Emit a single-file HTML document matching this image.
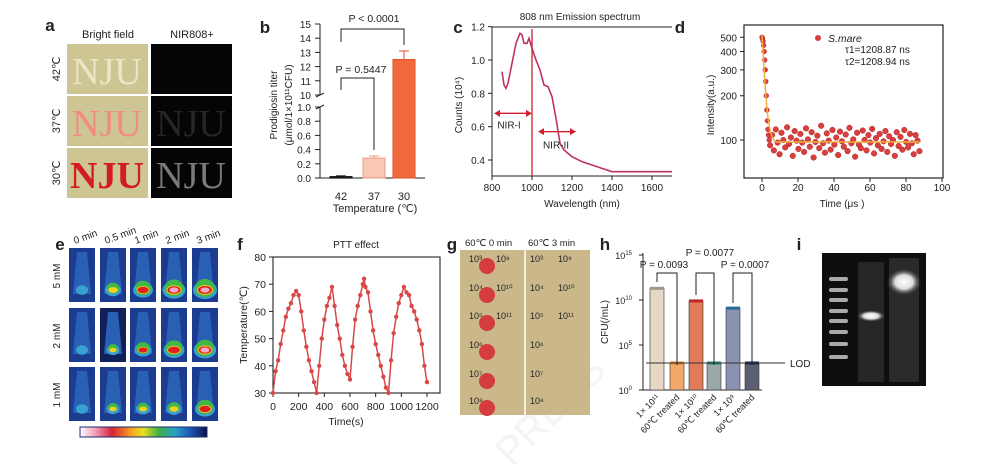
<!DOCTYPE html>
<html><head><meta charset="utf-8"><style>
html,body{margin:0;padding:0;background:#fff;overflow:hidden;}
svg{display:block;font-family:"Liberation Sans",sans-serif;}
</style></head><body>
<svg id="fig" xmlns="http://www.w3.org/2000/svg" width="1000" height="470" viewBox="0 0 1000 470" style="overflow:hidden">
<defs>
<linearGradient id="cbar" x1="0" x2="1" y1="0" y2="0">
<stop offset="0" stop-color="#ffffff"/><stop offset="0.12" stop-color="#f0a0b8"/><stop offset="0.25" stop-color="#d8203a"/><stop offset="0.4" stop-color="#f5a020"/><stop offset="0.5" stop-color="#e8e020"/><stop offset="0.62" stop-color="#40b040"/><stop offset="0.75" stop-color="#2aa0c8"/><stop offset="0.88" stop-color="#1c50b0"/><stop offset="1" stop-color="#0a1040"/>
</linearGradient>
<radialGradient id="glow"><stop offset="0" stop-color="#fff"/><stop offset="0.5" stop-color="#ddd"/><stop offset="1" stop-color="#222" stop-opacity="0"/></radialGradient>
</defs>
</svg>
<script>
const NS='http://www.w3.org/2000/svg';
const svg=document.getElementById('fig');
function el(tag,attrs,name,parent){
  const e=document.createElementNS(NS,tag);
  for(const k in attrs) e.setAttribute(k,attrs[k]);
  
  
  (parent||svg).appendChild(e);
  return e;
}
function tx(x,y,s,size,name,opt){
  opt=opt||{};
  const a={x:x,y:y,'font-size':size,fill:opt.fill||'#222','text-anchor':opt.anchor||'middle'};
  if(opt.bold)a['font-weight']='bold';
  if(opt.italic)a['font-style']='italic';
  if(opt.rot!==undefined)a.transform='rotate('+opt.rot+' '+x+' '+y+')';
  if(opt.family)a['font-family']=opt.family;
  const t=el('text',a,name);
  t.textContent=s;
  return t;
}
function ln(x1,y1,x2,y2,name,stroke,w){return el('line',{x1:x1,y1:y1,x2:x2,y2:y2,stroke:stroke||'#222','stroke-width':w||1},name);}

// ===== data arrays =====
const bCats=['42','37','30'];
const bVals=[0.02,0.28,12.5];
const bErr=[0.01,0.03,0.6];
const bTicksUpper=[10,11,12,13,14,15];
const bTicksLower=[0,0.2,0.4,0.6,0.8,1.0];

const cWave=[850,860,870,880,900,920,940,950,960,975,985,1000,1020,1040,1060,1080,1100,1120,1140,1160,1200,1250,1300,1350,1400,1500,1600,1700];
const cCounts=[0.93,0.85,0.83,0.86,0.98,1.1,1.16,1.15,1.1,1.1,1.13,1.07,1.0,0.94,0.85,0.84,0.78,0.65,0.5,0.46,0.42,0.39,0.37,0.35,0.33,0.33,0.33,0.33];
const cYTicks=[0.4,0.6,0.8,1.0,1.2];
const cXTicks=[800,1000,1200,1400,1600];

const dDecayT=[0,0.3,0.6,0.9,1.2,1.5,1.8,2.1,2.4,2.7,3.0,3.3,3.6,4.0];
const dDecayV=[500,490,470,440,400,350,300,250,200,160,135,118,108,100];
const dNoise=[92,108,85,118,96,80,112,100,89,122,94,104,78,115,99,87,110,96,83,120,101,90,113,76,97,107,88,125,95,82,111,99,86,117,93,104,79,114,98,90,109,84,121,95,101,77,112,93,88,116,100,85,108,96,119,81,103,92,110,87,98,115,83,106,94,100,78,113,91,105,86,117,97,89,110,95,80,108,99,84];
const dYTicks=[100,200,300,400,500];
const dXTicks=[0,20,40,60,80,100];

const eRows=['5 mM','2 mM','1 mM'];
const eCols=['0 min','0.5 min','1 min','2 min','3 min'];
const eHeat=[[0.2,0.6,0.8,0.95,1.0],[0.1,0.45,0.65,0.85,0.92],[0.15,0.45,0.5,0.55,0.8]];

const fTime=[0,20,40,60,80,100,120,140,160,180,200,220,240,260,280,300,320,340,360,380,400,420,440,460,480,500,520,540,560,580,600,620,640,660,680,700,710,720,740,760,780,800,820,840,860,880,900,920,940,960,980,1000,1020,1040,1060,1080,1100,1120,1140,1160,1180,1200];
const fTemp=[30,38,42,48,53,58,61,63,66,67.5,66,60,53,47,42,38,34,30,40,50,57,62,65,69,62,55,50,44,40,37,35,47,57,62,66,70,72,69,67,60,53,48,44,40,36,32,30,42,52,58,63,66,69,67,66,62,60,57,53,48,40,34];
const fYTicks=[30,40,50,60,70,80];
const fXTicks=[0,200,400,600,800,1000,1200];

const hCats=['1× 10¹¹','60℃ treated','1× 10¹⁰','60℃ treated','1× 10⁹','60℃ treated'];
const hLogVals=[11.3,3,9.9,3,9.1,3];
const hLOD=3;
const hYTicks=[0,5,10,15];

// watermark (behind)
tx(560,420,'PRESS',40,'watermark',{fill:'#f4f4f4',rot:-45});

// ===== panel a =====
tx(50,31,'a',17,'panel-label-a',{bold:true});
tx(108,38,'Bright field',11,'bright-field-header');
tx(192,38,'NIR808+',11,'nir808-header');
const aRows=['42℃','37℃','30℃'];
const aBright=['#ece6c8','#f28a80','#d41c22'];
const aNir=['#050505','#262626','#7a7a7a'];
const aY=[44,96,148];
aRows.forEach((r,i)=>{
  el('rect',{x:67,y:aY[i],width:81,height:50,fill:'#cec594'},'bright-field-image');
  tx(107,aY[i]+40,'NJU',38,'nju-bright-text',{fill:aBright[i],family:'"Liberation Serif",serif',bold:i==2});
  el('rect',{x:151,y:aY[i],width:81,height:50,fill:'#050505'},'nir-image');
  tx(191,aY[i]+40,'NJU',38,'nju-nir-text',{fill:aNir[i],family:'"Liberation Serif",serif'});
  tx(60,aY[i]+25,r,11,'row-label-temp',{rot:-90});
});

// ===== panel b =====
tx(265,33,'b',17,'panel-label-b',{bold:true});
function yB(v){return v<=1?178-v*71:95-(v-10)*14.2;}
const bX=[341,374,404];
ln(320,24,320,95,'y-axis-upper');
ln(320,107,320,178,'y-axis-lower');
ln(316,97,324,93,'axis-break-mark');ln(316,109,324,105,'axis-break-mark');
ln(320,178,425,178,'x-axis');
bTicksUpper.forEach(v=>{ln(315,yB(v),320,yB(v),'y-tick');tx(311,yB(v)+4,String(v),10,'y-tick-label',{anchor:'end'});});
bTicksLower.forEach(v=>{ln(315,yB(v),320,yB(v),'y-tick');tx(311,yB(v)+4,v.toFixed(1),10,'y-tick-label',{anchor:'end'});});
const bFill=['#222','#f9c8b2','#f06a3c'],bStroke=['#111','#e89a80','#e0502a'];
bCats.forEach((c,i)=>{
  const y=yB(bVals[i]);
  el('rect',{x:bX[i]-11,y:y,width:22,height:Math.max(178-y,1.5),fill:bFill[i],stroke:bStroke[i]},'bar-'+c);
  const ye=yB(bVals[i]+bErr[i]);
  ln(bX[i],y,bX[i],ye,'error-bar',bStroke[i]);ln(bX[i]-5,ye,bX[i]+5,ye,'error-cap',bStroke[i]);
  tx(bX[i],200,c,11,'x-tick-label');
});
tx(375,212,'Temperature (℃)',11,'x-axis-title');
tx(277,105,'Prodigiosin titer',10,'y-axis-title',{rot:-90});
tx(292,105,'(μmol/1×10¹¹CFU)',10,'y-axis-title-unit',{rot:-90});
el('path',{d:'M341,42V29H404V45',fill:'none',stroke:'#222'},'p-bracket-1');
tx(374,22,'P < 0.0001',10.5,'p-value-1');
el('path',{d:'M341,90V78H374V150',fill:'none',stroke:'#222'},'p-bracket-2');
tx(361,73,'P = 0.5447',10.5,'p-value-2');

// ===== panel c =====
tx(458,33,'c',17,'panel-label-c',{bold:true});
function xc(l){return 492+(l-800)*0.2;}
function yc(v){return 160-(v-0.4)*166.7;}
tx(580,20,'808 nm Emission spectrum',10,'chart-title-c');
ln(492,27,492,176,'y-axis-c');ln(492,176,672,176,'x-axis-c');ln(492,27,672,27,'top-border-c');
cYTicks.forEach(v=>{ln(488,yc(v),492,yc(v),'y-tick');tx(485,yc(v)+4,v.toFixed(1),10,'y-tick-label',{anchor:'end'});});
cXTicks.forEach(v=>{ln(xc(v),176,xc(v),180,'x-tick');tx(xc(v),191,String(v),10,'x-tick-label');});
tx(582,207,'Wavelength (nm)',10,'x-axis-title-c');
tx(462,105,'Counts (10⁴)',10,'y-axis-title-c',{rot:-90});
el('path',{d:cWave.map((w,i)=>(i?'L':'M')+xc(w)+','+yc(cCounts[i])).join(''),fill:'none',stroke:'#c0306a','stroke-width':1.6},'spectrum-line');
ln(xc(1000),29,xc(1000),176,'nir-boundary-line','#d02030',1.3);
function arrow(x1,x2,y,name){ln(x1+4,y,x2-4,y,name,'#d02030',1.4);
  el('path',{d:`M${x1},${y}l6,-3.5v7z`,fill:'#d02030'},name+'-head-left');
  el('path',{d:`M${x2},${y}l-6,-3.5v7z`,fill:'#d02030'},name+'-head-right');}
arrow(xc(810),xc(1000),yc(0.68),'nir-i-arrow');
tx(xc(885),yc(0.68)+15,'NIR-I',10,'nir-i-label');
arrow(xc(1030),xc(1220),yc(0.57),'nir-ii-arrow');
tx(xc(1120),yc(0.57)+17,'NIR-II',10,'nir-ii-label');

// ===== panel d =====
tx(680,33,'d',17,'panel-label-d',{bold:true});
function xd(t){return 762+t*1.8;}
function yd(v){return 140-Math.log10(v/100)*147;}
el('rect',{x:744,y:25,width:199,height:153,fill:'none',stroke:'#222','stroke-width':1.2},'plot-frame-d');
dYTicks.forEach(v=>{ln(740,yd(v),744,yd(v),'y-tick');tx(737,yd(v)+4,String(v),10,'y-tick-label',{anchor:'end'});});
dXTicks.forEach(v=>{ln(xd(v),178,xd(v),182,'x-tick');tx(xd(v),191,String(v),10,'x-tick-label');});
tx(842,207,'Time   (μs )',10,'x-axis-title-d');
tx(714,105,'Intensity(a.u.)',10,'y-axis-title-d',{rot:-90});
const dots=el('g',{},'scatter-points');
dDecayT.forEach((t,i)=>el('circle',{cx:xd(t),cy:yd(dDecayV[i]),r:2.4,fill:'#d84040',stroke:'#b02020','stroke-width':0.5},'data-point',dots));
dNoise.forEach((v,i)=>{const t=4.5+i*1.05;el('circle',{cx:xd(t),cy:yd(v),r:2.8,fill:'#d84040',stroke:'#b02020','stroke-width':0.5},'data-point',dots);});
el('path',{d:'M'+xd(0)+','+yd(520)+'C'+xd(2)+','+yd(200)+' '+xd(3)+','+yd(100)+' '+xd(8)+','+yd(97)+'L'+xd(88)+','+yd(97),fill:'none',stroke:'#f0b040','stroke-width':1.5},'fit-line');
el('circle',{cx:818,cy:38,r:3,fill:'#d84040'},'legend-marker');
tx(828,42,'S.mare',10.5,'legend-label',{anchor:'start',italic:true});
tx(845,53,'τ1=1208.87 ns',10,'tau1-label',{anchor:'start'});
tx(845,65,'τ2=1208.94 ns',10,'tau2-label',{anchor:'start'});

// ===== panel e =====
tx(60,250,'e',17,'panel-label-e',{bold:true});
const eX=[69,100,130,161,192],eY=[248,308,367];
eCols.forEach((c,j)=>tx(eX[j]+6,244,c,10,'time-label',{anchor:'start',rot:-20}));
eRows.forEach((r,i)=>{
  tx(60,eY[i]+28,r,10,'concentration-label',{rot:-90});
  eCols.forEach((c,j)=>{
    const x=eX[j],y=eY[i],w=26,h=54,v=eHeat[i][j];
    const g=el('g',{},'thermal-image');
    el('rect',{x:x,y:y,width:w,height:h,fill:v<0.5&&j==1&&i==1?'#12205a':'#1c3c92'},'thermal-bg',g);
    el('path',{d:`M${x+8},${y+4}L${x+18},${y+4}L${x+22},${y+h-8}L${x+4},${y+h-8}Z`,fill:'#2a60b4'},'tube',g);
    const cx=x+w/2,cy=y+h-12;
    el('ellipse',{cx:cx,cy:cy,rx:10*Math.max(v,0.4)+2,ry:7*Math.max(v,0.4)+2,fill:'#3aa0d0'},'heat-halo',g);
    if(v>0.3)el('ellipse',{cx:cx,cy:cy-2,rx:9*v+1,ry:9*v,fill:'#40b848'},'heat-green',g);
    if(v>0.4)el('ellipse',{cx:cx,cy:cy,rx:8*v,ry:5*v,fill:'#f0d020'},'heat-yellow',g);
    if(v>0.6)el('ellipse',{cx:cx,cy:cy,rx:7*v,ry:4*v,fill:'#e02020'},'heat-red',g);
    if(v>0.85)el('ellipse',{cx:cx,cy:cy,rx:4.5,ry:2.6,fill:'#f4a8c8'},'heat-pink',g);
  });
});
el('rect',{x:80,y:427,width:127,height:10,fill:'url(#cbar)',stroke:'#1a2a70'},'color-bar');

// ===== panel f =====
tx(240,250,'f',17,'panel-label-f',{bold:true});
function xf(t){return 273+t*(427-273)/1200;}
function yf(v){return 393-(v-30)*(136/50);}
tx(356,248,'PTT effect',10,'chart-title-f');
el('rect',{x:273,y:257,width:167,height:136,fill:'none',stroke:'#222','stroke-width':1.1},'plot-frame-f');
fYTicks.forEach(v=>{ln(269,yf(v),273,yf(v),'y-tick');tx(266,yf(v)+4,String(v),10.5,'y-tick-label',{anchor:'end'});});
fXTicks.forEach(v=>{ln(xf(v),393,xf(v),397,'x-tick');tx(xf(v),410,String(v),10.5,'x-tick-label');});
tx(346,425,'Time(s)',10.5,'x-axis-title-f');
tx(247,325,'Temperature(℃)',10.5,'y-axis-title-f',{rot:-90});
el('path',{d:fTime.map((t,i)=>(i?'L':'M')+xf(t)+','+yf(fTemp[i])).join(''),fill:'none',stroke:'#d84848','stroke-width':1.5},'temperature-line');
fTime.forEach((t,i)=>el('circle',{cx:xf(t),cy:yf(fTemp[i]),r:2.2,fill:'#d84848'},'temperature-point'));

// ===== panel g =====
tx(452,250,'g',17,'panel-label-g',{bold:true});
tx(465,246,'60℃  0 min',9.5,'plate-header-0min',{anchor:'start'});
tx(528,246,'60℃  3 min',9.5,'plate-header-3min',{anchor:'start'});
el('rect',{x:460,y:250,width:130,height:165,fill:'#cbb88a'},'agar-plate');
ln(525,250,525,415,'plate-divider','#f4eedc',2);
const gRowY=[262,291,319,348,377,404];
const gL=['10³','10⁴','10⁵','10⁶','10⁷','10⁸'],gR=['10⁹','10¹⁰','10¹¹'];
gRowY.forEach((y,i)=>{
  el('circle',{cx:487,cy:y+4,r:8,fill:'#d43c40'},'bacteria-spot');
  tx(469,y,gL[i],9,'dilution-label-0min',{anchor:'start'});
  tx(530,y,gL[i],9,'dilution-label-3min',{anchor:'start'});
  if(i<3){tx(496,y,gR[i],9,'dilution-label-0min',{anchor:'start'});tx(558,y,gR[i],9,'dilution-label-3min',{anchor:'start'});}
});

// ===== panel h =====
tx(605,250,'h',17,'panel-label-h',{bold:true});
function yh(v){return 390-v*9;}
const hX=[657,677,696,714,733,752];
ln(643,253,643,390,'y-axis-h');ln(643,390,762,390,'x-axis-h');
hYTicks.forEach(v=>{ln(639,yh(v),643,yh(v),'y-tick');const t=tx(632,yh(v)+4,'10',9,'y-tick-label',{anchor:'end'});const s=document.createElementNS(NS,'tspan');s.setAttribute('dy','-4');s.setAttribute('font-size','6');s.textContent=String(v);t.appendChild(s);});
tx(608,322,'CFU(/mL)',10,'y-axis-title-h',{rot:-90});
const hFill=['#e6d8c4','#f2aa6a','#e07a58','#9aa8a8','#8a92b2','#5c6072'];
const hDot=['#9a9a8a','#e08a30','#c02828','#2a8a80','#2a6a9a','#1a2050'];
hCats.forEach((c,i)=>{
  const y=yh(hLogVals[i]);
  el('rect',{x:hX[i]-7,y:y,width:14,height:390-y,fill:hFill[i],stroke:'#333','stroke-width':0.6},'bar-'+i);
  ln(hX[i]-7,y,hX[i]+7,y,'bar-dots',hDot[i],3);
  tx(hX[i]+3,398,c,9,'x-tick-label-h',{anchor:'end',rot:-45});
});
ln(646,yh(hLOD),785,yh(hLOD),'lod-line','#333',1);
tx(790,yh(hLOD)+4,'LOD',10,'lod-label',{anchor:'start'});
el('path',{d:'M657,282V273H677V365',fill:'none',stroke:'#222'},'p-bracket-h1');
tx(664,268,'P = 0.0093',10,'p-value-h1');
el('path',{d:'M696,295V273H714V365',fill:'none',stroke:'#222'},'p-bracket-h2');
tx(710,256,'P = 0.0077',10,'p-value-h2');
el('path',{d:'M733,303V273H752V365',fill:'none',stroke:'#222'},'p-bracket-h3');
tx(745,268,'P = 0.0007',10,'p-value-h3');

// ===== panel i =====
tx(799,250,'i',17,'panel-label-i',{bold:true});
el('rect',{x:822,y:253,width:104,height:133,fill:'#0e0e0e'},'gel-image');
const ladderY=[279,290,300,311,321,332,344,357];
ladderY.forEach(y=>el('rect',{x:829,y:y-2,width:19,height:4,rx:2,fill:'#aaa'},'ladder-band'));
el('rect',{x:858,y:262,width:26,height:120,fill:'#262626'},'lane2-smear');
el('ellipse',{cx:871,cy:316,rx:15,ry:6,fill:'url(#glow)'},'lane2-band');
el('rect',{x:889,y:258,width:30,height:124,fill:'#2a2a2a'},'lane3-smear');
el('ellipse',{cx:904,cy:282,rx:18,ry:14,fill:'url(#glow)'},'lane3-band');
</script>
</body></html>
